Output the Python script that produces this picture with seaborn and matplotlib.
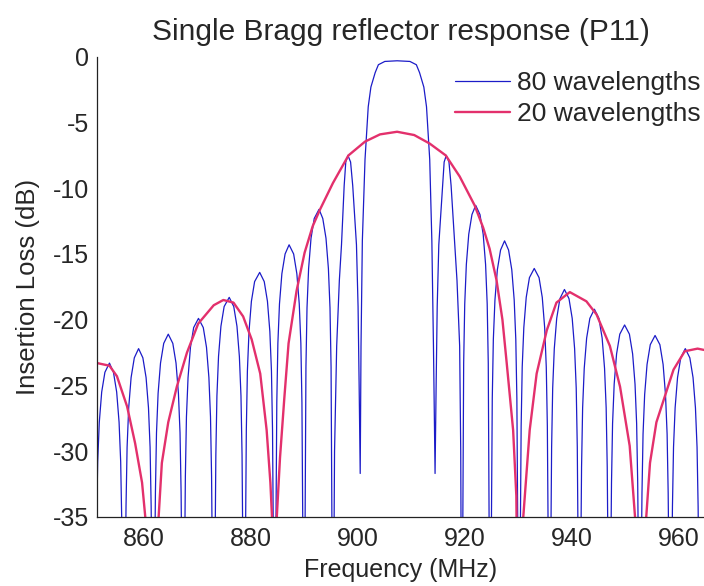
import matplotlib
matplotlib.use("Agg")
import matplotlib.pyplot as plt
import seaborn as sns

sns.set_style("white")
plt.rcParams['font.family'] = ['Liberation Sans', 'DejaVu Sans']
plt.rcParams['axes.unicode_minus'] = False

title = "Single Bragg reflector response (P11)"
x_label = "Frequency (MHz)"
y_label = "Insertion Loss (dB)"
x_ticks = [860, 880, 900, 920, 940, 960]
y_ticks = [0, -5, -10, -15, -20, -25, -30, -35]
series_names = ["80 wavelengths", "20 wavelengths"]

# 80 wavelengths, read lobe by lobe off the picture (nulls drop below -35)
freq_80 = [
    851.2, 851.3, 851.6, 852.05, 852.65, 853.5, 854.25, 854.85, 855.3, 855.6, 855.8,
    856.2, 856.6, 856.8, 857.1, 857.55, 858.15, 858.95, 859.75, 860.35, 860.8, 861.1, 861.3,
    861.7, 862.1, 862.3, 862.6, 863.05, 863.65, 864.5, 865.35, 865.95, 866.4, 866.7, 866.9,
    867.3, 867.7, 867.9, 868.2, 868.65, 869.25, 870.15, 871.05, 871.65, 872.1, 872.4, 872.6,
    873.0, 873.4, 873.6, 873.9, 874.35, 874.95, 875.9, 876.75, 877.35, 877.8, 878.1, 878.3,
    878.7, 879.1, 879.3, 879.6, 880.05, 880.65, 881.6, 882.45, 883.05, 883.5, 883.8, 884.0,
    884.4, 884.8, 885.0, 885.3, 885.75, 886.35, 887.1, 887.95, 888.55, 889.0, 889.3, 889.5,
    889.9, 890.25, 890.45, 890.75, 891.2, 891.8, 892.7, 893.4, 894.0, 894.45, 894.75, 894.95,
    895.3, 895.6, 896.0, 896.5, 896.9, 897.4, 897.7, 898.1, 898.6, 899.0, 899.7, 900.0, 900.2,
    900.4, 900.55, 900.8, 901.3, 901.9, 902.4, 903.2, 903.8, 905.0, 907.3,
    909.7, 910.9, 911.5, 912.3, 912.8, 913.4, 913.8, 914.1,
    914.4, 914.6, 914.8, 915.1, 915.8, 916.1, 916.5, 917.0, 917.4, 918.1, 918.5, 919.0, 919.2,
    919.4, 919.75, 919.95, 920.25, 920.7, 921.3, 922.0, 922.8, 923.4, 923.85, 924.15, 924.35,
    924.7, 925.1, 925.3, 925.6, 926.05, 926.65, 927.4, 928.15, 928.75, 929.2, 929.5, 929.7,
    930.1, 930.5, 930.7, 931.0, 931.45, 932.05, 932.95, 933.85, 934.45, 934.9, 935.2, 935.4,
    935.8, 936.2, 936.4, 936.7, 937.15, 937.75, 938.6, 939.45, 940.05, 940.5, 940.8, 941.0,
    941.4, 941.8, 942.0, 942.3, 942.75, 943.35, 944.2, 945.05, 945.65, 946.1, 946.4, 946.6,
    947.0, 947.4, 947.6, 947.9, 948.35, 948.95, 949.85, 950.75, 951.35, 951.8, 952.1, 952.3,
    952.7, 953.1, 953.3, 953.6, 954.05, 954.65, 955.55, 956.45, 957.05, 957.5, 957.8, 958.0,
    958.4, 958.8, 959.0, 959.3, 959.75, 960.35, 961.2, 962.05, 962.65, 963.1, 963.4, 963.6,
    964.0, 964.7,
]
loss_80 = [
    -33.0, -30.8, -27.8, -25.5, -24.0, -23.3, -24.0, -25.5, -27.8, -30.8, -35.3,
    -50.0, -34.2, -29.7, -26.7, -24.4, -22.9, -22.2, -22.9, -24.4, -26.7, -29.7, -34.2,
    -50.0, -33.1, -28.6, -25.6, -23.3, -21.8, -21.1, -21.8, -23.3, -25.6, -28.6, -33.1,
    -50.0, -31.9, -27.4, -24.4, -22.1, -20.6, -19.9, -20.6, -22.1, -24.4, -27.4, -31.9,
    -50.0, -30.3, -25.8, -22.8, -20.5, -19.0, -18.3, -19.0, -20.5, -22.8, -25.8, -30.3,
    -50.0, -28.4, -23.9, -20.9, -18.6, -17.1, -16.4, -17.1, -18.6, -20.9, -23.9, -28.4,
    -50.0, -26.3, -21.8, -18.8, -16.5, -15.0, -14.3, -15.0, -16.5, -18.8, -21.8, -26.3,
    -50.0, -23.6, -19.1, -16.1, -13.8, -12.3, -11.6, -12.3, -13.8, -16.1, -19.1, -23.6,
    -50.0, -30.0, -22.0, -17.0, -14.3, -9.8, -8.0, -7.5, -8.0, -9.8, -14.3, -19.0, -25.0,
    -31.7, -22.0, -14.0, -7.8, -3.8, -2.3, -1.2, -0.6, -0.35, -0.3,
    -0.35, -0.6, -1.2, -2.3, -3.8, -7.8, -14.0, -22.0,
    -31.7, -25.0, -19.0, -14.3, -9.8, -8.0, -7.5, -8.0, -9.8, -14.3, -17.0, -22.0, -30.0,
    -50.0, -23.3, -18.8, -15.8, -13.5, -12.0, -11.3, -12.0, -13.5, -15.8, -18.8, -23.3,
    -50.0, -26.0, -21.5, -18.5, -16.2, -14.7, -14.0, -14.7, -16.2, -18.5, -21.5, -26.0,
    -50.0, -28.1, -23.6, -20.6, -18.3, -16.8, -16.1, -16.8, -18.3, -20.6, -23.6, -28.1,
    -50.0, -29.7, -25.2, -22.2, -19.9, -18.4, -17.7, -18.4, -19.9, -22.2, -25.2, -29.7,
    -50.0, -31.2, -26.7, -23.7, -21.4, -19.9, -19.2, -19.9, -21.4, -23.7, -26.7, -31.2,
    -50.0, -32.4, -27.9, -24.9, -22.6, -21.1, -20.4, -21.1, -22.6, -24.9, -27.9, -32.4,
    -50.0, -33.2, -28.7, -25.7, -23.4, -21.9, -21.2, -21.9, -23.4, -25.7, -28.7, -33.2,
    -50.0, -34.2, -29.7, -26.7, -24.4, -22.9, -22.2, -22.9, -24.4, -26.7, -29.7, -34.2,
    -50.0, -50.0,
]

# 20 wavelengths
freq_20 = [
    851.2, 853.5, 854.9, 856.8, 858.3, 859.6, 860.2, 861.4,
    862.7, 863.3, 864.5, 866.1, 868.0, 870.1, 873.0, 874.8, 876.7,
    878.5, 880.1, 881.7, 882.9, 883.6, 883.9, 884.3,
    884.8, 885.4, 886.2, 887.0, 888.5, 890.0, 891.5, 892.9, 895.3,
    898.2, 901.3, 904.1, 907.3, 910.5, 913.4, 916.4, 919.0, 921.8,
    923.4, 924.6, 925.9, 927.0, 927.8, 929.0, 929.6, 930.0,
    930.9, 932.1, 933.4, 935.3, 937.1, 939.6, 942.7, 944.6, 947.1,
    949.0, 950.8, 951.8, 952.85,
    953.9, 954.6, 955.8, 957.4, 959.0, 961.1, 963.5, 964.7,
]
loss_20 = [
    -23.3, -23.5, -24.3, -26.6, -29.4, -32.4, -35.0, -50.0,
    -35.0, -30.9, -27.8, -25.1, -22.5, -20.3, -18.9, -18.5, -18.7,
    -19.75, -21.5, -24.1, -28.4, -32.4, -35.0, -50.0,
    -35.0, -30.5, -26.0, -21.8, -17.8, -14.9, -12.9, -11.6, -9.6,
    -7.5, -6.45, -5.9, -5.7, -5.95, -6.6, -7.5, -9.1, -11.3,
    -13.0, -14.6, -17.0, -20.0, -23.3, -28.4, -33.4, -50.0,
    -35.0, -28.4, -24.1, -20.8, -18.7, -17.9, -18.6, -19.6, -22.0,
    -25.1, -29.6, -35.0, -50.0,
    -35.0, -30.9, -27.8, -25.8, -23.8, -22.4, -22.2, -22.3,
]

fig = plt.figure(figsize=(7.04, 5.86), dpi=100)
ax = fig.add_axes([0.138, 0.118, 0.862, 0.785])

sns.lineplot(x=freq_80, y=loss_80, ax=ax, color='#1c1cc8', linewidth=0.9,
             label=series_names[0], sort=False, estimator=None)
sns.lineplot(x=freq_20, y=loss_20, ax=ax, color='#e3306c', linewidth=1.7,
             label=series_names[1], sort=False, estimator=None)

ax.set_xlim(851.2, 964.7)
ax.set_ylim(-35, 0)
ax.set_xticks(x_ticks)
ax.set_yticks(y_ticks)
ax.tick_params(direction='in', length=4, width=0.8, labelsize=18, color='#333333')
ax.tick_params(axis='x', pad=7)
ax.tick_params(axis='y', pad=6)

sns.despine(ax=ax)
for side in ['left', 'bottom']:
    ax.spines[side].set_color('#222222')
    ax.spines[side].set_linewidth(0.9)

ax.set_title(title, fontsize=21.5, pad=12)
ax.set_xlabel(x_label, fontsize=18, labelpad=5)
ax.set_ylabel(y_label, fontsize=18.5, labelpad=9)

ax.legend(loc='upper right', bbox_to_anchor=(1.02, 1.003), frameon=False,
          fontsize=19, handlelength=2.08, handletextpad=0.27, labelspacing=0.27,
          borderaxespad=0.2)

fig.savefig('out.png', dpi=100)
